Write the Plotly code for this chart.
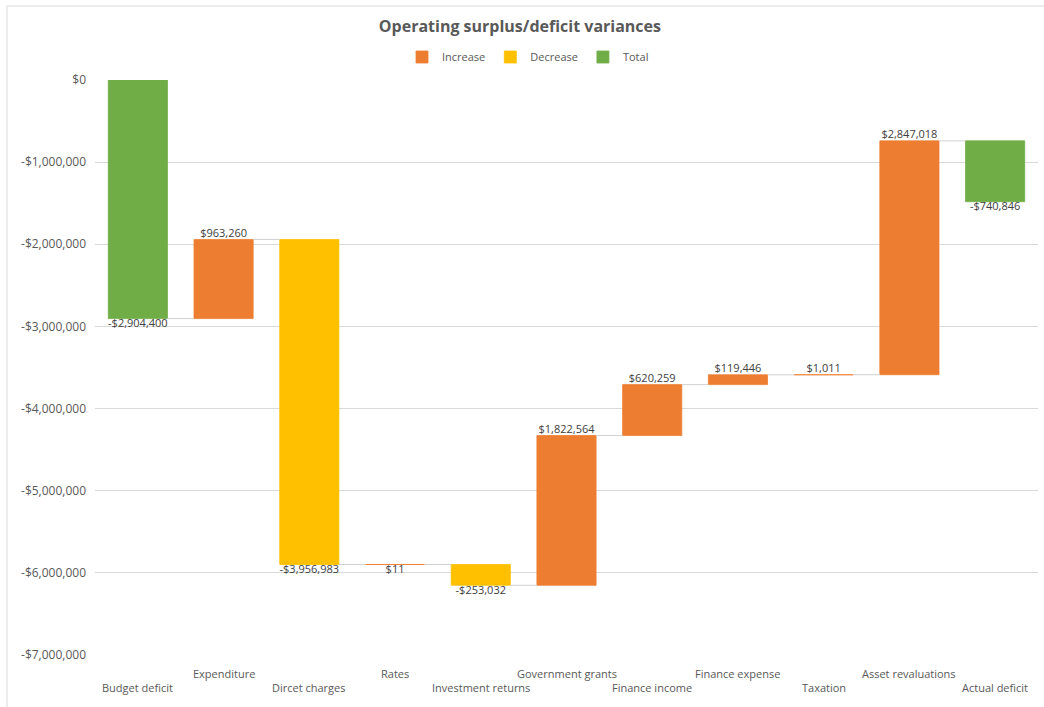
import plotly.graph_objects as go

categories = ["Budget deficit", "Expenditure", "Dircet charges", "Rates", "Investment returns",
              "Government grants", "Finance income", "Finance expense", "Taxation",
              "Asset revaluations", "Actual deficit"]
values = [-2904400, 963260, -3956983, 11, -253032, 1822564, 620259, 119446, 1011, 2847018, -740846]
kinds = ["Total", "Increase", "Decrease", "Increase", "Decrease", "Increase",
         "Increase", "Increase", "Increase", "Increase", "Total"]
label_side = ["below", "above", "below", "below", "below", "above",
              "above", "above", "above", "above", "below"]
y_ticks = [0, -1000000, -2000000, -3000000, -4000000, -5000000, -6000000, -7000000]

colors = {"Increase": "#ED7D31", "Decrease": "#FFC000", "Total": "#70AD47"}
W, H = 1044, 707
ML, MR, MT, MB = 95, 6, 80, 52
BAR_W = 0.69


def money(v):
    s = "${:,.0f}".format(abs(v))
    return "-" + s if v < 0 else s


# cumulative bases
bases = []
run = 0
for v in values:
    bases.append(run)
    run += v
ends = [b + v for b, v in zip(bases, values)]
xs = list(range(len(categories)))

fig = go.Figure()

# connectors
cx, cy = [], []
for i in range(len(values) - 1):
    cx += [i + BAR_W / 2, i + 1 - BAR_W / 2, None]
    cy += [ends[i], ends[i], None]
fig.add_trace(go.Scatter(x=cx, y=cy, mode="lines", line=dict(color="#d0d0d0", width=1),
                         showlegend=False, hoverinfo="skip"))

for k in ["Increase", "Decrease", "Total"]:
    idx = [i for i in xs if kinds[i] == k]
    fig.add_trace(go.Bar(
        x=[xs[i] for i in idx], y=[values[i] for i in idx], base=[bases[i] for i in idx],
        name=k, marker=dict(color=colors[k], line=dict(width=0.8, color=colors[k])),
        width=BAR_W,
    ))

# data labels
for side, pos in [("above", "top center"), ("below", "bottom center")]:
    idx = [i for i in xs if label_side[i] == side]
    fig.add_trace(go.Scatter(
        x=[xs[i] for i in idx], y=[ends[i] for i in idx], mode="text",
        text=[money(values[i]) for i in idx], textposition=pos,
        textfont=dict(family="Open Sans, sans-serif", size=11, color="#404040"),
        showlegend=False, hoverinfo="skip", cliponaxis=False,
    ))

# staggered category labels
for i, c in enumerate(categories):
    fig.add_annotation(x=i, y=0, xref="x", yref="paper", text=c, showarrow=False,
                       yanchor="middle", yshift=-18 if i % 2 else -32,
                       font=dict(family="Open Sans, sans-serif", size=11, color="#595959"))

# chart frame
pw, ph = W - ML - MR, H - MT - MB
fig.add_shape(type="rect", xref="paper", yref="paper",
              x0=(7 - ML) / pw, x1=(W + 10 - ML) / pw,
              y0=(H - MB - (H + 10)) / ph, y1=(H - MB - 6) / ph,
              line=dict(color="#d9d9d9", width=1), layer="below")

fig.update_layout(
    width=W, height=H,
    margin=dict(l=ML, r=MR, t=MT, b=MB, autoexpand=False),
    paper_bgcolor="white", plot_bgcolor="white",
    barmode="overlay",
    font=dict(family="Open Sans, sans-serif", color="#595959"),
    title=dict(text="<b>Operating surplus/deficit variances</b>", x=0.498, xref="container",
               y=1 - 26 / H, yref="container", xanchor="center", yanchor="middle",
               font=dict(size=16, color="#595959")),
    legend=dict(orientation="h", x=(528 - ML) / pw, xref="paper", y=1 + (MT - 57) / ph,
                yref="paper", xanchor="center", yanchor="middle",
                font=dict(size=11, color="#595959"), itemwidth=30, traceorder="normal"),
    xaxis=dict(range=[-0.5, len(categories) - 0.5], showticklabels=False, showgrid=False,
               zeroline=False, showline=False, ticks=""),
    yaxis=dict(range=[-7000000, 0], tickvals=y_ticks, ticktext=[money(v) for v in y_ticks],
               showgrid=True, gridcolor="#d9d9d9", gridwidth=1, zeroline=False,
               showline=False, ticks="", tickfont=dict(size=12, color="#595959"),
               ticklabelstandoff=8),
    showlegend=True,
)

fig.write_html("out.html")
